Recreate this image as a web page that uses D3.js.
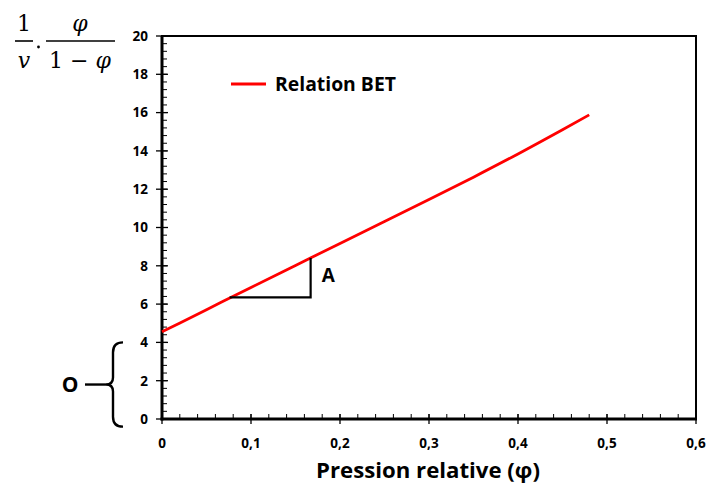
<!DOCTYPE html>
<html>
<head>
<meta charset="utf-8">
<script src="https://cdn.jsdelivr.net/npm/d3@7"></script>
<style>
  body { margin: 0; background: #fff; }
  text { font-family: "Open Sans", Lato, sans-serif; }
</style>
</head>
<body>
<script>
// BET relation, values
const phi = [0, 0.05, 0.1, 0.15, 0.2, 0.25, 0.3, 0.35, 0.4, 0.45, 0.48];
const bet = [4.55, 5.71, 6.87, 8.02, 9.17, 10.31, 11.46, 12.63, 13.84, 15.1, 15.88];
const yTicks = [0, 2, 4, 6, 8, 10, 12, 14, 16, 18, 20];
const xTicks = [0, 0.1, 0.2, 0.3, 0.4, 0.5, 0.6];
const slope = { x0: 0.076, x1: 0.167, y0: 6.35 };
const braceRange = [-0.4, 4];

const W = 709, H = 487;
const m = { left: 162, right: 13, top: 36, bottom: 68 };

const svg = d3.select("body").append("svg").attr("width", W).attr("height", H);

const x = d3.scaleLinear().domain([0, 0.6]).range([m.left, W - m.right]);
const y = d3.scaleLinear().domain([0, 20]).range([H - m.bottom, m.top]);

// scale a text's font size so it takes the given width
function fitText(sel, width) {
  const fs = +sel.attr("font-size");
  const w = sel.node().getComputedTextLength();
  sel.attr("font-size", fs * width / w);
}

// frame
svg.append("rect")
  .attr("x", x(0)).attr("y", y(20))
  .attr("width", x(0.6) - x(0)).attr("height", y(0) - y(20))
  .attr("fill", "none").attr("stroke", "#000").attr("stroke-width", 2);

// minor ticks (inside)
const yMinor = d3.range(0, 20.001, 0.4);
svg.append("g").selectAll("line").data(yMinor).join("line")
  .attr("x1", x(0)).attr("x2", x(0) + 5)
  .attr("y1", d => y(d)).attr("y2", d => y(d))
  .attr("stroke", "#000").attr("stroke-width", 1);
const xMinor = d3.range(0, 0.6001, 0.02);
svg.append("g").selectAll("line").data(xMinor).join("line")
  .attr("x1", d => x(d)).attr("x2", d => x(d))
  .attr("y1", y(0)).attr("y2", y(0) - 5)
  .attr("stroke", "#000").attr("stroke-width", 1);

// major ticks crossing the axes
svg.append("g").selectAll("line").data(yTicks).join("line")
  .attr("x1", x(0) - 6).attr("x2", x(0) + 6)
  .attr("y1", d => y(d)).attr("y2", d => y(d))
  .attr("stroke", "#000").attr("stroke-width", 1.3);
svg.append("g").selectAll("line").data(xTicks).join("line")
  .attr("x1", d => x(d)).attr("x2", d => x(d))
  .attr("y1", y(0) - 5).attr("y2", y(0) + 5)
  .attr("stroke", "#000").attr("stroke-width", 1.3);

// thick left and bottom axis lines
svg.append("line").attr("x1", x(0)).attr("x2", x(0)).attr("y1", y(20)).attr("y2", y(0) + 1.5)
  .attr("stroke", "#000").attr("stroke-width", 3);
svg.append("line").attr("x1", x(0) - 1.5).attr("x2", x(0.6) + 1).attr("y1", y(0)).attr("y2", y(0))
  .attr("stroke", "#000").attr("stroke-width", 3);

// tick labels
svg.append("g").selectAll("text").data(yTicks).join("text")
  .attr("x", x(0) - 14).attr("y", d => y(d)).attr("dy", "0.36em")
  .attr("text-anchor", "end").attr("font-size", 13.5).attr("font-weight", "bold")
  .text(d => d);
svg.append("g").selectAll("text").data(xTicks).join("text")
  .attr("x", d => x(d)).attr("y", y(0) + 29)
  .attr("text-anchor", "middle").attr("font-size", 13.5).attr("font-weight", "bold")
  .text(d => d3.format(".1~f")(d).replace(".", ","));

// BET line
const line = d3.line().x(d => x(d[0])).y(d => y(d[1])).curve(d3.curveMonotoneX);
svg.append("path").datum(d3.zip(phi, bet))
  .attr("d", line).attr("fill", "none").attr("stroke", "#ff0000").attr("stroke-width", 2.8);

// slope triangle
const betAt = d3.scaleLinear().domain(phi).range(bet);
svg.append("path")
  .attr("d", `M${x(slope.x0)},${y(slope.y0)}H${x(slope.x1)}V${y(betAt(slope.x1))}`)
  .attr("fill", "none").attr("stroke", "#000").attr("stroke-width", 2.2);
svg.append("text").attr("x", x(slope.x1) + 11).attr("y", 282)
  .attr("font-size", 19).attr("font-weight", "bold").text("A");

// legend
svg.append("line").attr("x1", 231).attr("x2", 266).attr("y1", 84).attr("y2", 84)
  .attr("stroke", "#ff0000").attr("stroke-width", 2.8);
svg.append("text").attr("x", 275).attr("y", 84).attr("dy", "0.36em")
  .attr("font-size", 16).attr("font-weight", "bold").text("Relation BET")
  .call(fitText, 121);

// brace for the intercept
const bTop = y(braceRange[1]), bBot = y(braceRange[0]), bMid = (bTop + bBot) / 2;
const bx = 110;
svg.append("path")
  .attr("d", `M${bx + 13},${bTop} Q${bx + 3},${bTop} ${bx + 3},${bTop + 10}
    L${bx + 3},${bMid - 7} Q${bx + 3},${bMid} ${bx - 4},${bMid}
    Q${bx + 3},${bMid} ${bx + 3},${bMid + 7}
    L${bx + 3},${bBot - 10} Q${bx + 3},${bBot} ${bx + 13},${bBot}`)
  .attr("fill", "none").attr("stroke", "#000").attr("stroke-width", 2.4);
svg.append("line").attr("x1", 85).attr("x2", bx - 4).attr("y1", bMid).attr("y2", bMid)
  .attr("stroke", "#000").attr("stroke-width", 2.4);
svg.append("text").attr("x", 70).attr("y", bMid).attr("dy", "0.36em").attr("text-anchor", "middle")
  .attr("font-size", 21).attr("font-weight", "bold").text("O");

// x title
svg.append("text").attr("x", 428).attr("y", 478)
  .attr("text-anchor", "middle").attr("font-size", 21).attr("font-weight", "bold")
  .text("Pression relative (φ)")
  .call(fitText, 224);

// y title: 1/v . φ/(1−φ)
const serif = "font-family:'DejaVu Serif','Liberation Serif',serif";
const yt = svg.append("g");
yt.append("text").attr("x", 24).attr("y", 31).attr("text-anchor", "middle")
  .attr("style", serif).attr("font-size", 22).text("1");
yt.append("line").attr("x1", 15).attr("x2", 33).attr("y1", 41).attr("y2", 41)
  .attr("stroke", "#000").attr("stroke-width", 1.6);
yt.append("text").attr("x", 24).attr("y", 68).attr("text-anchor", "middle")
  .attr("style", serif).attr("font-size", 22).attr("font-style", "italic").text("v");
yt.append("circle").attr("cx", 38.5).attr("cy", 47).attr("r", 1.4).attr("fill", "#000");
yt.append("text").attr("x", 80).attr("y", 31).attr("text-anchor", "middle")
  .attr("style", serif).attr("font-size", 22).attr("font-style", "italic").text("φ");
yt.append("line").attr("x1", 46).attr("x2", 115).attr("y1", 41).attr("y2", 41)
  .attr("stroke", "#000").attr("stroke-width", 1.6);
yt.append("text").attr("x", 80).attr("y", 68).attr("text-anchor", "middle")
  .attr("style", serif).attr("font-size", 22)
  .html('1 − <tspan font-style="italic">φ</tspan>');
</script>
</body>
</html>
